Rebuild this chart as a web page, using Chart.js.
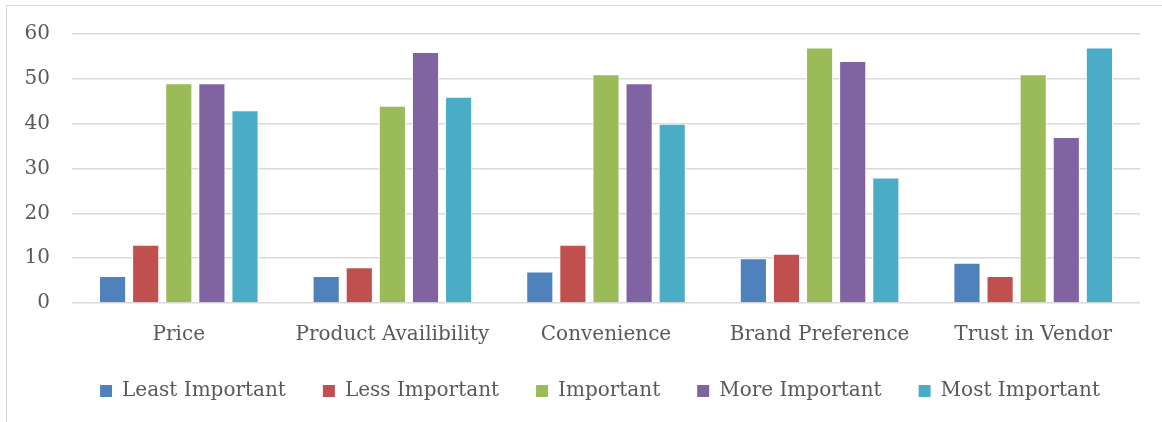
<!DOCTYPE html>
<html>
<head>
<meta charset="utf-8">
<script src="https://cdn.jsdelivr.net/npm/chart.js@4.4.1/dist/chart.umd.min.js"></script>
<style>
  html, body { margin: 0; padding: 0; background: #ffffff; }
  #wrap { position: relative; width: 1162px; height: 422px; overflow: hidden; }
  #frame { position: absolute; left: 6px; top: 5px; width: 1200px; height: 500px;
           border-left: 1.5px solid #d9d9d9; border-top: 1.5px solid #d9d9d9; pointer-events: none; }
  canvas { position: absolute; left: 0; top: 0; }
</style>
</head>
<body>
<div id="wrap">
  <canvas id="c" width="1162" height="422"></canvas>
  <div id="frame"></div>
</div>
<script>
const categories = ["Price", "Product Availibility", "Convenience", "Brand Preference", "Trust in Vendor"];
const seriesNames = ["Least Important", "Less Important", "Important", "More Important", "Most Important"];
const leastImportant = [6, 6, 7, 10, 9];
const lessImportant = [13, 8, 13, 11, 6];
const important = [49, 44, 51, 57, 51];
const moreImportant = [49, 56, 49, 54, 37];
const mostImportant = [43, 46, 40, 28, 57];
const yTicks = [0, 10, 20, 30, 40, 50, 60];
const colors = ["#4F81BD", "#C0504D", "#9BBB59", "#8064A2", "#4BACC6"];

const seriesValues = [leastImportant, lessImportant, important, moreImportant, mostImportant];
const FONT = "'DejaVu Serif', serif";

const datasets = seriesNames.map((name, i) => ({
  label: name,
  data: seriesValues[i],
  backgroundColor: colors[i],
  borderColor: "#ffffff",
  borderWidth: 1,
  categoryPercentage: 0.775,
  barPercentage: 0.82
}));

// Move the legend block (drawn by Chart.js) to its place under the axis labels.
const legendPlace = {
  id: "legendPlace",
  afterLayout(chart) {
    const lg = chart.legend;
    if (!lg) return;
    const dx = 30;
    lg.left += dx; lg.right += dx;
    lg.top = 344; lg.bottom = 422; lg.height = 78;
  }
};

new Chart(document.getElementById("c"), {
  type: "bar",
  data: { labels: categories, datasets },
  plugins: [legendPlace],
  options: {
    responsive: false,
    animation: false,
    layout: { padding: { top: 34, right: 22, left: 0, bottom: 21 } },
    plugins: {
      tooltip: { enabled: false },
      legend: {
        position: "bottom",
        maxHeight: 34,
        labels: {
          boxWidth: 12,
          boxHeight: 12,
          padding: 37,
          color: "#595959",
          font: { family: FONT, size: 20 },
          generateLabels: (chart) => {
            const items = Chart.defaults.plugins.legend.labels.generateLabels(chart);
            items.forEach(it => { it.lineWidth = 0; it.strokeStyle = it.fillStyle; });
            return items;
          }
        }
      }
    },
    scales: {
      x: {
        grid: { display: false, drawTicks: false },
        border: { display: false },
        ticks: { color: "#595959", font: { family: FONT, size: 20 }, padding: 20, maxRotation: 0 }
      },
      y: {
        min: 0, max: 60,
        afterBuildTicks: (scale) => { scale.ticks = yTicks.map(v => ({ value: v })); },
        afterFit: (scale) => { scale.width = 72; },
        grid: { color: "#d9d9d9", lineWidth: 1.5, drawTicks: false },
        border: { display: false },
        ticks: { color: "#595959", font: { family: FONT, size: 20 }, padding: 22 }
      }
    }
  }
});
</script>
</body>
</html>
